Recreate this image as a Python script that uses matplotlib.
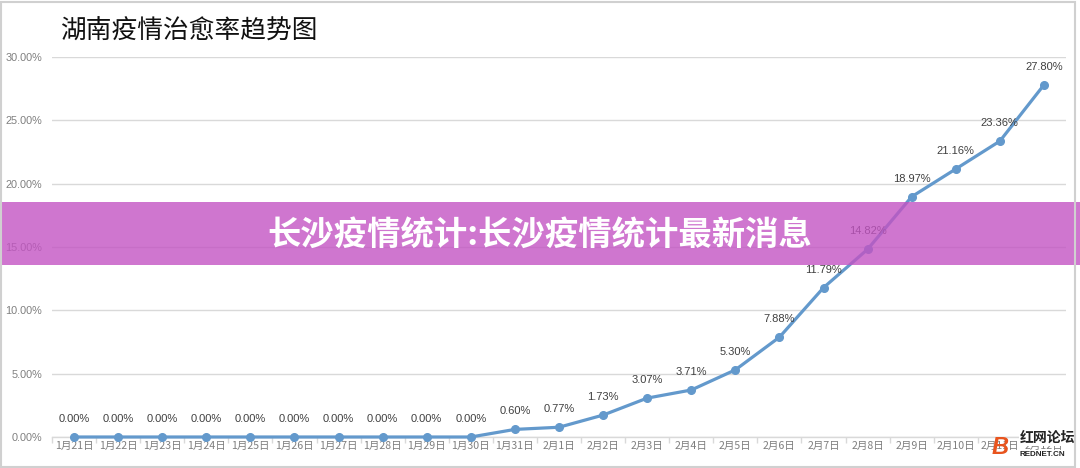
import matplotlib
matplotlib.use("Agg")
import matplotlib.pyplot as plt
from matplotlib.patches import Rectangle

plt.rcParams["font.family"] = ["Noto Sans CJK SC", "DejaVu Sans"]

# data
dates = ["1月21日", "1月22日", "1月23日", "1月24日", "1月25日", "1月26日",
         "1月27日", "1月28日", "1月29日", "1月30日", "1月31日", "2月1日",
         "2月2日", "2月3日", "2月4日", "2月5日", "2月6日", "2月7日",
         "2月8日", "2月9日", "2月10日", "2月11日", "2月12日"]
cure_rate = [0.00, 0.00, 0.00, 0.00, 0.00, 0.00, 0.00, 0.00, 0.00, 0.00,
             0.60, 0.77, 1.73, 3.07, 3.71, 5.30, 7.88, 11.79, 14.82, 18.97,
             21.16, 23.36, 27.80]
y_ticks = [0, 5, 10, 15, 20, 25, 30]

title = "湖南疫情治愈率趋势图"
banner = "长沙疫情统计:长沙疫情统计最新消息"

W, H = 1080, 468
fig = plt.figure(figsize=(W / 100, H / 100), dpi=100)
fig.patch.set_facecolor("white")

latin = ["Liberation Sans", "DejaVu Sans"]

# plot area in pixels: x 52..1066, y 57..437 (30% .. 0%)
ax = fig.add_axes([52 / W, 1 - 437 / H, 1014 / W, 380 / H])
x = list(range(len(dates)))
ax.plot(x, cure_rate, color="#6399cc", lw=2.3, marker="o", ms=5.5,
        zorder=3, clip_on=False)
for xi, v in zip(x, cure_rate):
    ax.annotate(f"{v:.2f}%", (xi, v), xytext=(0, 13), textcoords="offset points",
                ha="center", va="center", fontsize=8, color="#404040",
                family=latin)

ax.set_xlim(-0.5, len(dates) - 0.5)
ax.set_ylim(0, 30)
ax.set_yticks(y_ticks)
ax.set_yticklabels([f"{t:.2f}%" for t in y_ticks], fontsize=7.8,
                   color="#7f7f7f", family=latin)
ax.yaxis.grid(True, color="#d9d9d9", lw=1)
ax.set_axisbelow(True)
ax.tick_params(axis="y", length=0, pad=7)

ax.set_xticks(x)
ax.set_xticklabels(dates, fontsize=7.6, color="#7f7f7f")
ax.tick_params(axis="x", length=0, pad=3)
ax.set_xticks([i - 0.5 for i in range(len(dates) + 1)], minor=True)
ax.tick_params(axis="x", which="minor", length=4, color="#d9d9d9", width=1)

for s in ["top", "right", "left"]:
    ax.spines[s].set_visible(False)
ax.spines["bottom"].set_color("#d9d9d9")
ax.spines["bottom"].set_linewidth(1)

fig.text(60 / W, 1 - 32 / H, title, fontsize=18.5, color="#111111",
         ha="left", va="center")

# translucent banner across the middle
fig.patches.append(Rectangle((0, 1 - 265 / H), 1, 63 / H, transform=fig.transFigure,
                             facecolor="#c354c3", alpha=0.8, edgecolor="none",
                             zorder=5))
fig.text(540 / W, 1 - 235 / H, banner, fontsize=24, color="white",
         fontweight="heavy", ha="center", va="center", zorder=6)

# watermark in the bottom right corner
fig.text(1020 / W, 1 - 438 / H, "红网论坛", fontsize=10, color="#222222",
         fontweight="bold", ha="left", va="center", zorder=6,
         bbox=dict(facecolor="white", edgecolor="none", pad=1))
fig.text(1020 / W, 1 - 455 / H, "REDNET.CN", fontsize=5.8, color="#222222",
         fontweight="bold", ha="left", va="center", zorder=6, family=latin)
fig.text(1000 / W, 1 - 447 / H, "B", fontsize=17, color="#e8541e",
         fontweight="bold", fontstyle="italic", ha="center", va="center",
         zorder=6, family=latin)

# thin grey frame around the picture
fig.patches.append(Rectangle((1 / W, 1 / H), 1074 / W, 1 - 3 / H,
                             transform=fig.transFigure, facecolor="none",
                             edgecolor="#d0d0d0", lw=1.5, zorder=7))

fig.savefig("out.png", dpi=100)
